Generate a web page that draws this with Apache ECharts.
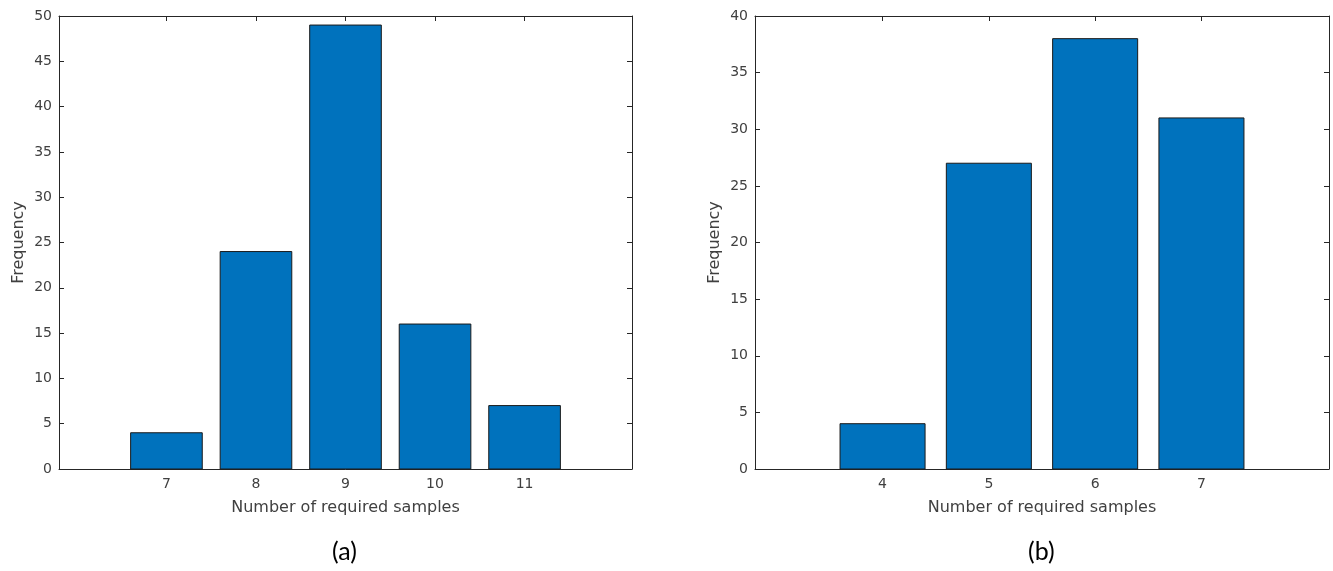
<!DOCTYPE html>
<html>
<head>
<meta charset="utf-8">
<script src="https://cdn.jsdelivr.net/npm/echarts@6/dist/echarts.min.js"></script>
<style>
  html, body { margin: 0; padding: 0; background: #fff; }
  #chart { width: 1333px; height: 571px; }
</style>
</head>
<body>
<div id="chart"></div>
<script>
// panel (a)
var samplesA = [7, 8, 9, 10, 11]
var freqA = [4, 24, 49, 16, 7]
// panel (b)
var samplesB = [4, 5, 6, 7]
var freqB = [4, 27, 38, 31]

var axisColor = '#262626'
var textColor = '#404040'
var barColor = '#0072BD'
var fontName = 'DejaVu Sans'

function renderBar(params, api) {
  var x = api.value(0)
  var y = api.value(1)
  var p0 = api.coord([x - 0.4, y])
  var p1 = api.coord([x + 0.4, 0])
  return {
    type: 'rect',
    shape: { x: p0[0], y: p0[1], width: p1[0] - p0[0], height: p1[1] - p0[1] },
    style: { fill: barColor, stroke: '#1a1a1a', lineWidth: 1 }
  }
}

function xAxes(gridIndex, lo, hi, ticks) {
  var line = { show: true, onZero: false, lineStyle: { color: axisColor, width: 1 } }
  return [
    {
      gridIndex: gridIndex,
      type: 'value',
      min: lo,
      max: hi,
      position: 'bottom',
      axisLine: line,
      axisTick: { show: true, inside: true, length: 5, customValues: ticks, lineStyle: { color: axisColor } },
      axisLabel: { customValues: ticks, color: textColor, fontSize: 14, fontFamily: fontName, margin: 8 },
      splitLine: { show: false },
      name: 'Number of required samples',
      nameLocation: 'middle',
      nameGap: 31,
      nameTextStyle: { color: textColor, fontSize: 16, fontFamily: fontName }
    },
    {
      gridIndex: gridIndex,
      type: 'value',
      min: lo,
      max: hi,
      position: 'top',
      axisLine: line,
      axisTick: { show: true, inside: true, length: 5, customValues: ticks, lineStyle: { color: axisColor } },
      axisLabel: { show: false },
      splitLine: { show: false }
    }
  ]
}

function yAxes(gridIndex, hi) {
  var line = { show: true, onZero: false, lineStyle: { color: axisColor, width: 1 } }
  return [
    {
      gridIndex: gridIndex,
      type: 'value',
      min: 0,
      max: hi,
      interval: 5,
      position: 'left',
      axisLine: line,
      axisTick: { show: true, inside: true, length: 5, lineStyle: { color: axisColor } },
      axisLabel: { color: textColor, fontSize: 14, fontFamily: fontName, margin: 7 },
      splitLine: { show: false },
      name: 'Frequency',
      nameLocation: 'middle',
      nameGap: 32,
      nameTextStyle: { color: textColor, fontSize: 16, fontFamily: fontName }
    },
    {
      gridIndex: gridIndex,
      type: 'value',
      min: 0,
      max: hi,
      interval: 5,
      position: 'right',
      axisLine: line,
      axisTick: { show: true, inside: true, length: 5, lineStyle: { color: axisColor } },
      axisLabel: { show: false },
      splitLine: { show: false }
    }
  ]
}

var myChart = echarts.init(document.getElementById('chart'), null, { renderer: 'canvas' })

var option = {
  backgroundColor: '#fff',
  animation: false,
  grid: [
    { left: 59, right: 701, top: 16, bottom: 102 },
    { left: 755, right: 4, top: 16, bottom: 102 }
  ],
  xAxis: xAxes(0, 5.8, 12.2, samplesA).concat(xAxes(1, 2.8, 8.2, samplesB)),
  yAxis: yAxes(0, 50).concat(yAxes(1, 40)),
  series: [
    {
      name: '(a)',
      type: 'custom',
      xAxisIndex: 0,
      yAxisIndex: 0,
      renderItem: renderBar,
      data: samplesA.map(function (s, i) { return [s, freqA[i]] })
    },
    {
      name: '(b)',
      type: 'custom',
      xAxisIndex: 2,
      yAxisIndex: 2,
      renderItem: renderBar,
      data: samplesB.map(function (s, i) { return [s, freqB[i]] })
    }
  ],
  graphic: [
    {
      type: 'text',
      left: 332,
      top: 539,
      style: { text: '(a)', fill: '#000', font: '25px Lato' }
    },
    {
      type: 'text',
      left: 1028,
      top: 539,
      style: { text: '(b)', fill: '#000', font: '25px Lato' }
    }
  ]
}

myChart.setOption(option)
</script>
</body>
</html>
